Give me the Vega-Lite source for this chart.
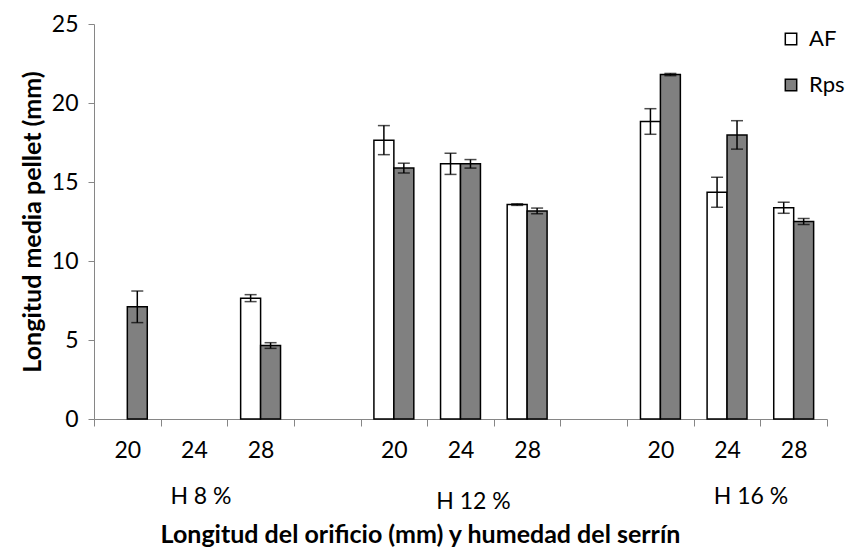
{
  "$schema": "https://vega.github.io/schema/vega-lite/v6.json",
  "width": 733,
  "height": 395,
  "autosize": {"type": "none"},
  "padding": {"left": 94, "top": 24, "right": 21, "bottom": 132},
  "background": "white",
  "config": {
    "font": "Lato",
    "view": {"stroke": null}
  },
  "data": {
    "values": [
      {"slot": "8-20", "serie": "AF", "mean": 0, "lo": 0, "hi": 0},
      {"slot": "8-20", "serie": "Rps", "mean": 7.1, "lo": 6.1, "hi": 8.1},
      {"slot": "8-24", "serie": "AF", "mean": 0, "lo": 0, "hi": 0},
      {"slot": "8-24", "serie": "Rps", "mean": 0, "lo": 0, "hi": 0},
      {"slot": "8-28", "serie": "AF", "mean": 7.65, "lo": 7.43, "hi": 7.87},
      {"slot": "8-28", "serie": "Rps", "mean": 4.65, "lo": 4.47, "hi": 4.83},
      {"slot": "12-20", "serie": "AF", "mean": 17.65, "lo": 16.73, "hi": 18.57},
      {"slot": "12-20", "serie": "Rps", "mean": 15.88, "lo": 15.57, "hi": 16.19},
      {"slot": "12-24", "serie": "AF", "mean": 16.15, "lo": 15.48, "hi": 16.82},
      {"slot": "12-24", "serie": "Rps", "mean": 16.15, "lo": 15.88, "hi": 16.42},
      {"slot": "12-28", "serie": "AF", "mean": 13.57, "lo": 13.52, "hi": 13.62},
      {"slot": "12-28", "serie": "Rps", "mean": 13.17, "lo": 12.99, "hi": 13.35},
      {"slot": "16-20", "serie": "AF", "mean": 18.83, "lo": 18.02, "hi": 19.64},
      {"slot": "16-20", "serie": "Rps", "mean": 21.8, "lo": 21.73, "hi": 21.87},
      {"slot": "16-24", "serie": "AF", "mean": 14.35, "lo": 13.4, "hi": 15.3},
      {"slot": "16-24", "serie": "Rps", "mean": 17.98, "lo": 17.08, "hi": 18.88},
      {"slot": "16-28", "serie": "AF", "mean": 13.37, "lo": 13.02, "hi": 13.72},
      {"slot": "16-28", "serie": "Rps", "mean": 12.5, "lo": 12.31, "hi": 12.69}
    ]
  },
  "transform": [{"filter": "datum.mean > 0"}],
  "resolve": {"axis": {"x": "independent"}},
  "encoding": {
    "y": {
      "field": "mean",
      "type": "quantitative",
      "scale": {"domain": [0, 25], "nice": false},
      "axis": {
        "title": "Longitud media pellet (mm)",
        "titleFontSize": 25,
        "titleFontWeight": "bold",
        "titleColor": "black",
        "titlePadding": 6,
        "values": [0, 5, 10, 15, 20, 25],
        "labelFontSize": 23,
        "labelColor": "black",
        "labelPadding": 10,
        "tickSize": 6,
        "tickColor": "#868686",
        "domainColor": "#868686",
        "grid": false
      }
    },
    "xOffset": {
      "field": "serie",
      "type": "nominal",
      "scale": {"domain": ["AF", "Rps"], "paddingInner": 0, "paddingOuter": 0.67}
    }
  },
  "layer": [
    {
      "mark": {"type": "bar", "stroke": "black", "strokeWidth": 1.5},
      "encoding": {
        "x": {
          "field": "slot",
          "type": "nominal",
          "scale": {
            "domain": ["8-20", "8-24", "8-28", "g1", "12-20", "12-24", "12-28", "g2", "16-20", "16-24", "16-28"],
            "paddingInner": 0,
            "paddingOuter": 0
          },
          "axis": {
            "orient": "bottom",
            "title": "Longitud del orificio (mm) y humedad del serrín",
            "titleFontSize": 25,
            "titleFontWeight": "bold",
            "titleColor": "black",
            "titleX": 326,
            "titleY": 115,
            "titleBaseline": "middle",
            "labelAngle": 0,
            "labelFontSize": 23,
            "labelColor": "black",
            "labelPadding": 13,
            "labelExpr": "(datum.value == '8-20' || datum.value == '12-20' || datum.value == '16-20') ? '20' : (datum.value == '8-24' || datum.value == '12-24' || datum.value == '16-24') ? '24' : (datum.value == '8-28' || datum.value == '12-28' || datum.value == '16-28') ? '28' : ''",
            "tickBand": "extent",
            "tickSize": 7,
            "tickColor": "#868686",
            "domainColor": "#868686",
            "grid": false
          }
        },
        "fill": {
          "field": "serie",
          "type": "nominal",
          "scale": {"domain": ["AF", "Rps"], "range": ["#ffffff", "#808080"]},
          "legend": {
            "title": null,
            "orient": "none",
            "legendX": 686,
            "legendY": 4,
            "symbolType": "square",
            "symbolSize": 130,
            "symbolStrokeColor": "black",
            "symbolStrokeWidth": 1.5,
            "labelFontSize": 22,
            "labelColor": "black",
            "labelOffset": 7,
            "rowPadding": 24,
            "padding": 0
          }
        }
      }
    },
    {
      "mark": {"type": "rule", "color": "black", "strokeWidth": 1.5},
      "encoding": {
        "x": {
          "field": "slot",
          "type": "nominal",
          "scale": {
            "domain": ["8-20", "8-24", "8-28", "g1", "12-20", "12-24", "12-28", "g2", "16-20", "16-24", "16-28"],
            "paddingInner": 0,
            "paddingOuter": 0
          },
          "axis": {
            "orient": "bottom",
            "title": null,
            "domain": false,
            "ticks": false,
            "tickSize": 0,
            "grid": false,
            "labelAngle": 0,
            "labelFontSize": 23,
            "labelColor": "black",
            "labelPadding": {"condition": {"test": "datum.value == '12-24'", "value": 71}, "value": 66},
            "labelOffset": {"condition": [{"test": "datum.value == '8-24'", "value": 7}, {"test": "datum.value == '12-24'", "value": 13}], "value": 24},
            "labelExpr": "datum.value == '8-24' ? 'H 8 %' : datum.value == '12-24' ? 'H 12 %' : datum.value == '16-24' ? 'H 16 %' : ''"
          }
        },
        "y": {"field": "lo", "type": "quantitative"},
        "y2": {"field": "hi"}
      }
    },
    {
      "mark": {"type": "tick", "color": "black", "thickness": 1.5, "size": 12},
      "encoding": {
        "x": {
          "field": "slot",
          "type": "nominal",
          "scale": {
            "domain": ["8-20", "8-24", "8-28", "g1", "12-20", "12-24", "12-28", "g2", "16-20", "16-24", "16-28"],
            "paddingInner": 0,
            "paddingOuter": 0
          },
          "axis": null
        },
        "y": {"field": "lo", "type": "quantitative"}
      }
    },
    {
      "mark": {"type": "tick", "color": "black", "thickness": 1.5, "size": 12},
      "encoding": {
        "x": {
          "field": "slot",
          "type": "nominal",
          "scale": {
            "domain": ["8-20", "8-24", "8-28", "g1", "12-20", "12-24", "12-28", "g2", "16-20", "16-24", "16-28"],
            "paddingInner": 0,
            "paddingOuter": 0
          },
          "axis": null
        },
        "y": {"field": "hi", "type": "quantitative"}
      }
    }
  ]
}
